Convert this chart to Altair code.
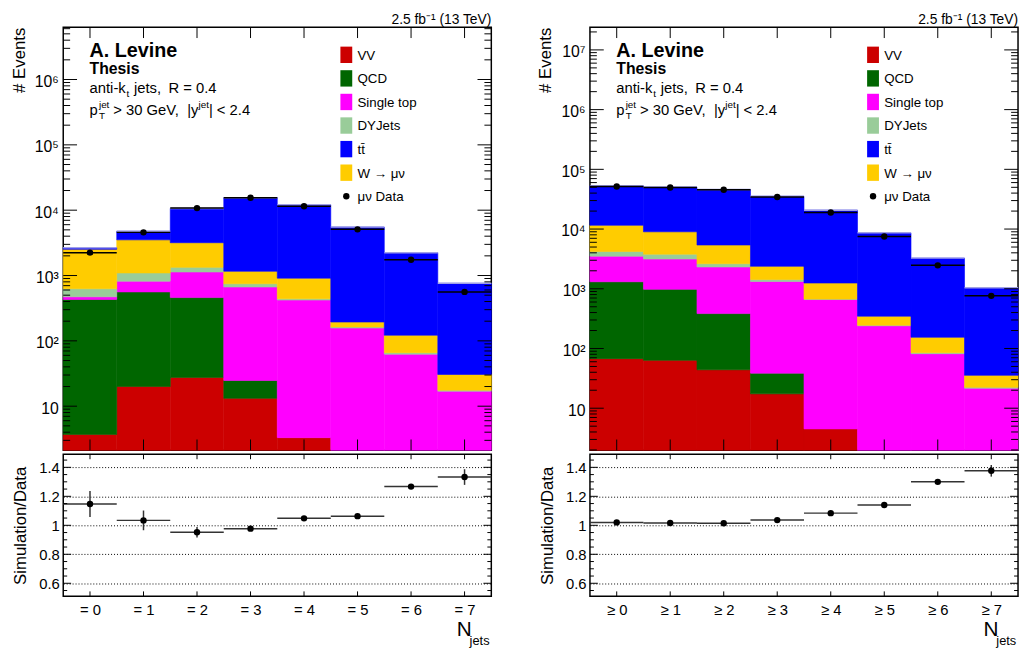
import altair as alt
import pandas as pd
import numpy as np

FONT = "Liberation Sans"

bins = list(range(8))
stack_names = ["VV", "QCD", "Single top", "DYJets", "W → μν", "tt̄"]
stack_colors = ["#cc0000", "#006600", "#ff00ff", "#99cc99", "#ffcc00", "#0000ff"]
legend_labels = ["VV", "QCD", "Single top", "DYJets", "tt̄", "W → μν"]
legend_colors = ["#cc0000", "#006600", "#ff00ff", "#99cc99", "#0000ff", "#ffcc00"]

# exclusive jet multiplicity (= N)
excl_vv = [3.7, 20, 27.6, 13.2, 3.3, 0, 0, 0]
excl_qcd = [426, 541, 432, 11.6, 0, 0, 0, 0]
excl_st = [42, 259, 672, 642, 418, 157, 62.6, 17]
excl_dy = [156, 274, 201, 81, 19, 6, 3.4, 0.6]
excl_w = [1886, 2421, 1842, 413, 470, 31, 56, 13]
excl_tt = [153, 1235, 7475, 14400, 11190, 5316, 2118, 728]
excl_data = [2240, 4575, 10760, 15500, 11500, 5090, 1740, 561]
excl_ratio = [1.147, 1.034, 0.952, 0.977, 1.048, 1.063, 1.267, 1.333]
excl_ratio_err = [0.09, 0.068, 0.037, 0.012, 0.008, 0.008, 0.012, 0.054]

# inclusive jet multiplicity (>= N)
incl_vv = [67.6, 63.4, 44, 17.4, 4.5, 0, 0, 0]
incl_qcd = [1242, 914, 340, 21.2, 0, 0, 0, 0]
incl_st = [2210, 2163, 1931, 1286, 656, 240, 81.8, 21.6]
incl_dy = [690, 655, 310, 105, 12, 6, 3.2, 0.8]
incl_w = [7350, 5195, 2775, 947, 574, 101, 69, 13.1]
incl_tt = [41240, 41210, 40600, 32920, 19450, 8300, 3106, 1004]
incl_data = [51600, 49700, 45400, 34400, 18900, 7520, 2470, 761]
incl_ratio = [1.02, 1.016, 1.014, 1.036, 1.084, 1.14, 1.30, 1.376]
incl_ratio_err = [0.005, 0.005, 0.005, 0.006, 0.008, 0.01, 0.012, 0.04]

ratio_major = [0.6, 0.8, 1.0, 1.2, 1.4]
ratio_minor = [0.55, 0.65, 0.7, 0.75, 0.85, 0.9, 0.95, 1.05, 1.1, 1.15, 1.25, 1.3, 1.35, 1.45]

W, HT, HR = 434, 429, 144


def px(xcol="tx", ycol="ty"):
    return dict(x=alt.X(f"{xcol}:Q", scale=None), y=alt.Y(f"{ycol}:Q", scale=None))


def make_panel(comps, data, ratio, rerr, ymin, ymax, maxexp, prefix):
    xs = alt.Scale(domain=[-0.5, 7.5], nice=False, zero=False)
    ys = alt.Scale(type="log", domain=[ymin, ymax], nice=False)
    rs = alt.Scale(domain=[0.51, 1.49], nice=False, zero=False)

    rows = []
    cum = np.zeros(8)
    for name, color, vals in zip(stack_names, stack_colors, comps):
        for i in bins:
            if vals[i] > 0:
                rows.append(dict(series=name, color=color, lo=i - 0.5, hi=i + 0.5,
                                 bottom=max(cum[i], ymin), top=cum[i] + vals[i]))
        cum = cum + np.array(vals, dtype=float)
    bars_df = pd.DataFrame(rows)
    d_df = pd.DataFrame(dict(c=bins, lo=[i - 0.5 for i in bins], hi=[i + 0.5 for i in bins],
                             v=data, total=cum, r=ratio,
                             rlo=[a - b for a, b in zip(ratio, rerr)],
                             rhi=[a + b for a, b in zip(ratio, rerr)]))

    label_expr = ("datum.value < 50 ? '10' : '10' + substring('⁰¹²³⁴⁵⁶⁷⁸⁹', "
                  "round(log(datum.value)/LN10), round(log(datum.value)/LN10)+1)")
    yaxis = alt.Axis(values=[10 ** k for k in range(1, maxexp + 1)], labelExpr=label_expr,
                     tickCount=20, ticks=False, domain=False, grid=False, labelFontSize=16,
                     labelPadding=5, labelOffset=2, labelOverlap=False, title="# Events",
                     titleFontSize=17, titleAnchor="end", titlePadding=6, titleFontWeight="normal",
                     labelFont=FONT, titleFont=FONT, labelColor="black", titleColor="black")
    xnone = dict(scale=xs, axis=None)

    bars = alt.Chart(bars_df).mark_rect(strokeWidth=0.6).encode(
        x=alt.X("lo:Q", **xnone), x2="hi:Q",
        y=alt.Y("bottom:Q", scale=ys, axis=yaxis), y2="top:Q",
        color=alt.Color("color:N", scale=None), stroke=alt.Stroke("color:N", scale=None))
    total_line = alt.Chart(d_df).mark_rule(color="#a0a0e6", strokeWidth=1.5).encode(
        x=alt.X("lo:Q", **xnone), x2="hi:Q", y=alt.Y("total:Q", scale=ys))

    yt = []
    for k in range(0, 9):
        for m in range(1, 10):
            v = m * 10 ** k
            if ymin < v < ymax:
                yt.append(dict(v=v, major=(m == 1)))
    yt_df = pd.DataFrame(yt)
    ymaj = alt.Chart(yt_df[yt_df.major]).mark_rule(color="black", strokeWidth=1)
    ymin_t = alt.Chart(yt_df[~yt_df.major]).mark_rule(color="black", strokeWidth=1)
    yy = alt.Y("v:Q", scale=ys)
    ticks = [
        ymaj.encode(y=yy, x=alt.value(0), x2=alt.value(14)),
        ymaj.encode(y=yy, x=alt.value(W), x2=alt.value(W - 14)),
        ymin_t.encode(y=yy, x=alt.value(0), x2=alt.value(7)),
        ymin_t.encode(y=yy, x=alt.value(W), x2=alt.value(W - 7)),
        alt.Chart(d_df).mark_rule(color="black").encode(
            x=alt.X("c:Q", **xnone), y=alt.value(HT), y2=alt.value(HT - 11)),
        alt.Chart(d_df).mark_rule(color="black").encode(
            x=alt.X("c:Q", **xnone), y=alt.value(0), y2=alt.value(11)),
    ]
    data_err = alt.Chart(d_df).mark_rule(color="black", strokeWidth=1.5).encode(
        x=alt.X("lo:Q", **xnone), x2="hi:Q", y=alt.Y("v:Q", scale=ys))
    data_pts = alt.Chart(d_df).mark_circle(size=42, color="black", opacity=1).encode(
        x=alt.X("c:Q", **xnone), y=alt.Y("v:Q", scale=ys))

    # annotation texts (pixel positions inside the plot)
    x0 = 26.7
    b3, b4 = 66.3, 88.7
    bold_df = pd.DataFrame(dict(t=["A. Levine", "Thesis"], tx=[x0, x0], ty=[30.3, 47.0], fs=[20, 16]))
    norm_df = pd.DataFrame(dict(
        t=["anti-k", "t", "jets,", "R = 0.4", "p", "jet", "T", "> 30 GeV,", "|y", "jet", "| < 2.4"],
        tx=[x0, x0 + 37.5, x0 + 45, x0 + 80, x0, x0 + 9.5, x0 + 9.5, x0 + 24, x0 + 99, x0 + 110.5, x0 + 121],
        ty=[b3, b3 + 4, b3, b3, b4, b4 - 7, b4 + 4, b4, b4, b4 - 7, b4],
        fs=[15, 10, 15, 15, 15, 10, 10, 15, 15, 10, 15]))
    bold_txt = alt.Chart(bold_df).mark_text(align="left", baseline="alphabetic", font=FONT,
                                            fontWeight="bold", color="black").encode(
        text="t:N", size=alt.Size("fs:Q", scale=None), **px())
    norm_txt = alt.Chart(norm_df).mark_text(align="left", baseline="alphabetic", font=FONT,
                                            color="black").encode(
        text="t:N", size=alt.Size("fs:Q", scale=None), **px())
    head_df = pd.DataFrame(dict(t=["2.5 fb⁻¹ (13 TeV)"], tx=[W], ty=[-3.0]))
    head_txt = alt.Chart(head_df).mark_text(align="right", baseline="alphabetic", font=FONT,
                                            fontSize=14, color="black").encode(text="t:N", **px())

    # legend
    lc = [28 + 23.9 * i for i in range(6)]
    leg_df = pd.DataFrame(dict(lab=legend_labels, color=legend_colors,
                               bx=[281] * 6, bx2=[293] * 6,
                               by=[c - 8.3 for c in lc], by2=[c + 8.3 for c in lc],
                               tx=[298.3] * 6, ty=[c + 5 for c in lc]))
    leg_box = alt.Chart(leg_df).mark_rect().encode(
        x=alt.X("bx:Q", scale=None), x2="bx2:Q", y=alt.Y("by:Q", scale=None), y2="by2:Q",
        color=alt.Color("color:N", scale=None))
    leg_txt = alt.Chart(leg_df).mark_text(align="left", baseline="alphabetic", font=FONT,
                                          fontSize=13.5, color="black").encode(text="lab:N", **px())
    dl = 28 + 23.9 * 6
    legd_df = pd.DataFrame(dict(lab=["μν Data"], cx=[287], cy=[dl], tx=[298.3], ty=[dl + 5]))
    leg_dot = alt.Chart(legd_df).mark_circle(size=42, color="black", opacity=1).encode(
        x=alt.X("cx:Q", scale=None), y=alt.Y("cy:Q", scale=None))
    leg_dtxt = alt.Chart(legd_df).mark_text(align="left", baseline="alphabetic", font=FONT,
                                            fontSize=13.5, color="black").encode(text="lab:N", **px())

    upper = alt.layer(bars, total_line, *ticks, data_err, data_pts, bold_txt, norm_txt, head_txt,
                      leg_box, leg_txt, leg_dot, leg_dtxt).properties(width=W, height=HT)

    # ratio panel
    rxaxis = alt.Axis(values=bins, tickCount=20, labelExpr=f"'{prefix} ' + datum.value", ticks=False,
                      domain=False, grid=False, labelFontSize=15, labelPadding=6, title=None,
                      labelAngle=0, labelOverlap=False, labelFont=FONT, labelColor="black")
    ryaxis = alt.Axis(values=ratio_major, tickCount=20, format="~g", ticks=False, domain=False,
                      grid=True, gridDash=[1, 2], gridColor="black", gridWidth=1, gridOpacity=1,
                      labelFontSize=15, labelPadding=4, labelOverlap=False, labelFlush=False,
                      title="Simulation/Data", titleFontSize=17,
                      titleAnchor="middle", titlePadding=9, titleFontWeight="normal",
                      labelFont=FONT, titleFont=FONT, labelColor="black", titleColor="black")
    rmaj = pd.DataFrame(dict(v=ratio_major))
    rmin = pd.DataFrame(dict(v=ratio_minor))
    ry = alt.Y("v:Q", scale=rs)
    rx = alt.X("c:Q", scale=xs)
    r_h = alt.Chart(d_df).mark_rule(color="#333333", strokeWidth=1.5).encode(
        x=alt.X("lo:Q", scale=xs, axis=rxaxis), x2="hi:Q", y=alt.Y("r:Q", scale=rs, axis=ryaxis))
    r_v = alt.Chart(d_df).mark_rule(color="#333333", strokeWidth=1.5).encode(
        x=rx, y=alt.Y("rlo:Q", scale=rs), y2="rhi:Q")
    r_p = alt.Chart(d_df).mark_circle(size=42, color="black", opacity=1).encode(
        x=rx, y=alt.Y("r:Q", scale=rs))
    r_ticks = [
        alt.Chart(rmaj).mark_rule(color="black").encode(y=ry, x=alt.value(0), x2=alt.value(8)),
        alt.Chart(rmaj).mark_rule(color="black").encode(y=ry, x=alt.value(W), x2=alt.value(W - 8)),
        alt.Chart(rmin).mark_rule(color="black").encode(y=ry, x=alt.value(0), x2=alt.value(4)),
        alt.Chart(rmin).mark_rule(color="black").encode(y=ry, x=alt.value(W), x2=alt.value(W - 4)),
        alt.Chart(d_df).mark_rule(color="black").encode(x=rx, y=alt.value(0), y2=alt.value(5)),
        alt.Chart(d_df).mark_rule(color="black").encode(x=rx, y=alt.value(HR), y2=alt.value(HR - 5)),
    ]
    nj_df = pd.DataFrame(dict(t=["N", "jets"], tx=[399.0, 412.0], ty=[184.0, 193.0], fs=[21, 13]))
    nj_txt = alt.Chart(nj_df).mark_text(align="left", baseline="alphabetic", font=FONT,
                                        color="black").encode(
        text="t:N", size=alt.Size("fs:Q", scale=None), **px())
    lower = alt.layer(r_h, r_v, r_p, *r_ticks, nj_txt).properties(width=W, height=HR)

    return alt.vconcat(upper, lower, spacing=0)


left = make_panel([excl_vv, excl_qcd, excl_st, excl_dy, excl_w, excl_tt], excl_data,
                  excl_ratio, excl_ratio_err, 2.11, 6.32e6, 6, "=")
right = make_panel([incl_vv, incl_qcd, incl_st, incl_dy, incl_w, incl_tt], incl_data,
                   incl_ratio, incl_ratio_err, 1.97, 2.4e7, 7, "≥")

chart = alt.hconcat(left, right, spacing=43).properties(
    padding={"left": 1, "top": 0, "right": 0, "bottom": 0}, background="white"
).configure_view(stroke="black", strokeWidth=1.5)

chart.save("out.html", embed_options={"renderer": "svg", "actions": False})
